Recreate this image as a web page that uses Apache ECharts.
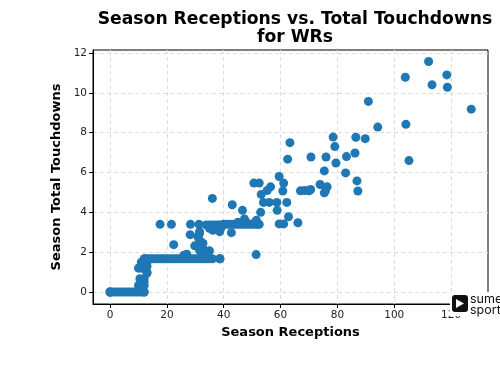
<!DOCTYPE html>
<html>
<head>
<meta charset="utf-8">
<script src="https://cdn.jsdelivr.net/npm/echarts@6/dist/echarts.min.js"></script>
<style>
  html, body { margin: 0; padding: 0; background: #fff; }
  #chart { width: 500px; height: 375px; }
</style>
</head>
<body>
<div id="chart"></div>
<script>
// season receptions (x) and total touchdowns (y)
const receptions = [
  0, 0, 0, 1, 2, 3, 4, 5, 6, 7, 8, 9, 10, 11, 12, 12,
  10, 11, 12, 10.5, 11, 12, 12, 13, 13, 10, 11, 12, 13, 11, 12, 13, 12.5,
  12, 13, 14, 15, 16, 17, 18, 19, 20, 21, 22, 23, 24, 25, 26, 27, 28, 29, 30, 31, 32, 33, 34, 35, 36, 38.6,
  26, 27, 32.5, 34,
  22.4, 28.2, 31.5, 29.8, 32.7, 31.5, 30.9, 32.1, 35, 33.3, 31.5,
  17.6, 21.6, 28.3, 31.3, 33.8, 35, 36, 37, 38, 39, 40, 41, 42, 43, 44, 45, 46, 47, 48, 49, 50, 51, 52, 52.5,
  45, 48, 51, 59.5, 61.1, 66.1, 36.2, 38.6, 42.7, 35, 37, 39, 31.5,
  47.3, 51.5, 62.8, 53, 58.8, 46.6, 43, 54, 56, 58.7, 62.2, 36, 53.2, 55.3, 56.5, 50.6, 52.5, 61.1, 60.8, 59.5,
  73.9, 76.4, 75.8, 75.4, 67, 68.5, 70, 70.6, 62.5, 63.3, 70.7, 76, 83.2, 86.2, 79.5, 75.4, 82.9, 86.9, 87.2,
  51.4, 38.7,
  112.1, 103.9, 118.5, 113.3, 118.7, 90.9, 127.1, 94.2, 104.1, 78.5, 86.5, 89.8, 79.1, 105.2
];
const touchdowns = [
  0, 0, 0, 0, 0, 0, 0, 0, 0, 0, 0, 0, 0, 0, 0, 0,
  0.33, 0.33, 0.33, 0.67, 0.6, 0.5, 0.67, 0.95, 1.0, 1.2, 1.2, 1.3, 1.3, 1.5, 1.5, 1.5, 1.67,
  1.67, 1.67, 1.67, 1.67, 1.67, 1.67, 1.67, 1.67, 1.67, 1.67, 1.67, 1.67, 1.67, 1.67, 1.67, 1.67, 1.67, 1.67, 1.67, 1.67, 1.67, 1.67, 1.67, 1.67, 1.67, 1.67,
  1.85, 1.9, 1.9, 1.75,
  2.38, 2.88, 2.95, 2.32, 2.45, 2.6, 2.78, 2.15, 2.07, 2.08, 2.1,
  3.4, 3.4, 3.4, 3.4, 3.37, 3.37, 3.37, 3.37, 3.37, 3.37, 3.4, 3.4, 3.4, 3.4, 3.4, 3.4, 3.4, 3.4, 3.4, 3.4, 3.4, 3.4, 3.4, 3.4,
  3.5, 3.5, 3.5, 3.42, 3.42, 3.48, 3.1, 3.03, 2.98, 3.2, 3.25, 3.2, 3.03,
  3.67, 3.6, 3.78, 4.0, 4.1, 4.1, 4.38, 4.5, 4.5, 4.5, 4.5, 4.7, 4.9, 5.1, 5.28, 5.47, 5.47, 5.47, 5.07, 5.8,
  5.4, 5.28, 5.08, 4.98, 5.08, 5.1, 5.08, 5.15, 6.67, 7.5, 6.78, 6.78, 6.8, 6.98, 6.48, 6.08, 5.98, 5.58, 5.07,
  1.88, 1.67,
  11.57, 10.78, 10.9, 10.4, 10.28, 9.57, 9.18, 8.28, 8.42, 7.78, 7.77, 7.7, 7.3, 6.6
];
const xTicks = [0, 20, 40, 60, 80, 100, 120];
const yTicks = [0, 2, 4, 6, 8, 10, 12];

const points = receptions.map((r, i) => [r, touchdowns[i]]);

const chart = echarts.init(document.getElementById('chart'));
const fontFam = 'DejaVu Sans';
const option = {
  animation: false,
  backgroundColor: '#fff',
  title: {
    text: 'Season Receptions vs. Total Touchdowns\nfor WRs',
    left: 290,
    textAlign: 'center',
    top: 6,
    textStyle: { fontFamily: fontFam, fontWeight: 'bold', fontSize: 17.2, color: '#000', lineHeight: 18 }
  },
  grid: { left: 93, right: 12, top: 50, bottom: 71, show: true, borderColor: '#000', borderWidth: 1 },
  xAxis: {
    type: 'value',
    min: -6,
    max: 133,
    name: 'Season Receptions',
    nameLocation: 'middle',
    nameGap: 22,
    nameTextStyle: { fontFamily: fontFam, fontWeight: 'bold', fontSize: 13, color: '#000' },
    axisLine: { onZero: false, lineStyle: { color: '#000', width: 1 } },
    axisTick: { show: true, length: 4, customValues: xTicks, lineStyle: { color: '#000' } },
    axisLabel: { customValues: xTicks, fontFamily: fontFam, fontSize: 10.5, color: '#222', margin: 6 },
    splitLine: { show: true, lineStyle: { color: '#ddd', type: [4, 3], width: 1 } }
  },
  yAxis: {
    type: 'value',
    min: -0.6,
    max: 12.15,
    name: 'Season Total Touchdowns',
    nameLocation: 'middle',
    nameGap: 30,
    nameTextStyle: { fontFamily: fontFam, fontWeight: 'bold', fontSize: 13, color: '#000' },
    axisLine: { onZero: false, lineStyle: { color: '#000', width: 1 } },
    axisTick: { show: true, length: 4, customValues: yTicks, lineStyle: { color: '#000' } },
    axisLabel: { customValues: yTicks, fontFamily: fontFam, fontSize: 10.5, color: '#222', margin: 6 },
    splitLine: { show: true, lineStyle: { color: '#ddd', type: [4, 3], width: 1 } }
  },
  series: [{
    type: 'scatter',
    data: points,
    symbolSize: 9,
    itemStyle: { color: '#1f77b4', opacity: 1 }
  }],
  graphic: [
    { type: 'rect', left: 450, top: 292, shape: { width: 50, height: 24 }, style: { fill: '#fff' }, z: 100 },
    { type: 'rect', left: 452, top: 295, shape: { width: 16, height: 17, r: 3 }, style: { fill: '#111' }, z: 101 },
    { type: 'polygon', shape: { points: [[456, 299], [464, 303.5], [456, 308]] }, style: { fill: '#fff' }, z: 102 },
    { type: 'text', left: 470, top: 293, style: { text: 'sumer\nsports', fontFamily: 'Inter', fontSize: 12.5, lineHeight: 11, fill: '#111' }, z: 102 }
  ]
};
chart.setOption(option);
</script>
</body>
</html>
